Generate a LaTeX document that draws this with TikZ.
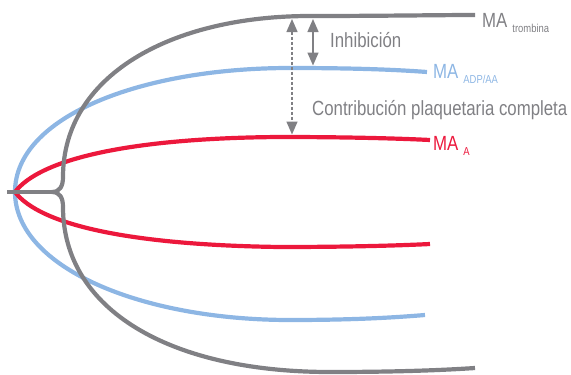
\documentclass[tikz,border=0pt]{standalone}
\usepackage{fontspec}
\setmainfont{Liberation Sans}[FakeStretch=0.82]
\usepackage{tikz}
\usetikzlibrary{arrows.meta}
\definecolor{maGray}{RGB}{128,128,132}
\definecolor{maBlue}{RGB}{141,182,228}
\definecolor{maRed}{RGB}{236,24,60}
\newcommand{\subtxt}[1]{\hspace{5pt}\raisebox{-5.5pt}{\fontsize{11.5}{12}\selectfont #1}}

\begin{document}
\begin{tikzpicture}[x=1pt, y=-1pt, line join=round]
        \useasboundingbox (0,0) rectangle (571,375);
        \tikzset{curva/.style={line width=4.2pt},
                 flecha/.style={{Triangle[length=13pt,width=11pt]}-{Triangle[length=13pt,width=11pt]}, maGray, line width=1.4pt},
                 etiqueta/.style={anchor=base west, inner sep=0pt, font=\fontsize{20.5}{22}\selectfont}}

        % Curva ADP/AA
        \draw[curva, maBlue] (427,72) .. controls (400,70) and (360,68) .. (290,68)
            .. controls (140,68) and (15,117) .. (15,192)
            .. controls (15,267) and (140,320) .. (290,320)
            .. controls (360,320) and (400,317) .. (425,315);

        % Curva A
        \draw[curva, maRed] (430,140) .. controls (410,139) and (360,137) .. (280,137)
            .. controls (130,138) and (40,159) .. (15,192)
            .. controls (40,225) and (130,245) .. (280,247)
            .. controls (360,247) and (410,245) .. (430,244);

        % Curva trombina
        \draw[curva, maGray] (7,192) -- (52,192);
        \draw[curva, maGray] (475,15) .. controls (440,15) and (380,16) .. (310,16)
            .. controls (170,16) and (63,76) .. (63,177)
            .. controls (63,186) and (60,192) .. (52,192)
            .. controls (60,192) and (63,198) .. (63,207)
            .. controls (63,310) and (170,372) .. (330,372)
            .. controls (400,372) and (445,370) .. (475,368);

        % Puntos de las flechas
        \coordinate (g1) at (292,19);
        \coordinate (r1) at (292,134.5);
        \coordinate (g2) at (313,19);
        \coordinate (b2) at (313,65.5);

        % Flechas
        \draw[flecha, dash pattern=on 3pt off 2pt] (g1) -- (r1);
        \draw[flecha] (g2) -- (b2);

        % Etiquetas
        \node[etiqueta, maGray] (maT) at (482,27) {MA\subtxt{trombina}};
        \node[etiqueta, maBlue] (maAA) at (433,78) {MA\subtxt{ADP/AA}};
        \node[etiqueta, maRed] (maA) at (433,150) {MA\subtxt{A}};
        \node[etiqueta, maGray] (inh) at (330,47) {Inhibición};
        \node[etiqueta, maGray] (contrib) at (312,115) {Contribución plaquetaria completa};
    \end{tikzpicture}
\end{document}
